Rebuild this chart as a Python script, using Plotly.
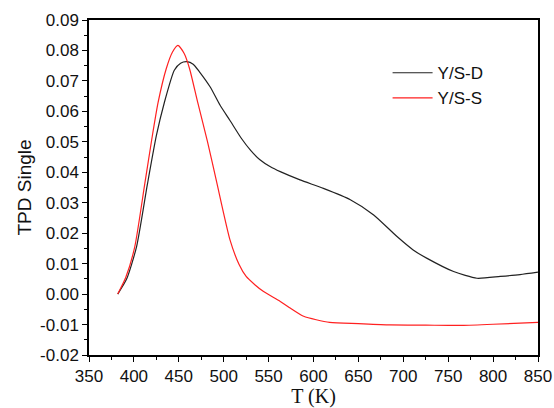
import plotly.graph_objects as go

# temperature (K) and signal
tD = [382, 392, 403, 415, 425, 434, 445, 452, 459, 466, 473, 485, 496, 507, 520, 530, 540, 552, 563, 585, 611, 641, 667, 693, 711, 726, 756, 782, 808, 830, 850]
yD = [0.0, 0.005, 0.0156, 0.036, 0.052, 0.063, 0.0735, 0.0758, 0.0763, 0.0755, 0.073, 0.068, 0.062, 0.057, 0.051, 0.0472, 0.0442, 0.0418, 0.0402, 0.0375, 0.0347, 0.031, 0.026, 0.0189, 0.0145, 0.0118, 0.0074, 0.0052, 0.0058, 0.0064, 0.0072]

tS = [382, 391, 401, 412, 420, 427, 436, 443, 449, 456, 462, 471, 482, 492, 507, 517, 525, 535, 544, 563, 574, 589, 618, 650, 685, 725, 763, 800, 850]
yS = [0.0, 0.0055, 0.0156, 0.036, 0.051, 0.063, 0.074, 0.0795, 0.0817, 0.079, 0.074, 0.063, 0.05, 0.037, 0.0178, 0.0098, 0.0058, 0.003, 0.0009, -0.0024, -0.0046, -0.0073, -0.0093, -0.0097, -0.0101, -0.0102, -0.0103, -0.0099, -0.0093]

# y tick labels as printed (plain hyphen for negatives)
yTickVals = [-0.02, -0.01, 0.0, 0.01, 0.02, 0.03, 0.04, 0.05, 0.06, 0.07, 0.08, 0.09]
yTickText = ["-0.02", "-0.01", "0.00", "0.01", "0.02", "0.03", "0.04", "0.05", "0.06", "0.07", "0.08", "0.09"]

fig = go.Figure()
fig.add_trace(go.Scatter(x=tD, y=yD, mode="lines", name="Y/S-D",
                         line=dict(color="#222222", width=1.2, shape="spline", smoothing=0.6)))
fig.add_trace(go.Scatter(x=tS, y=yS, mode="lines", name="Y/S-S",
                         line=dict(color="#ff2020", width=1.2, shape="spline", smoothing=0.6)))

axis_common = dict(showline=True, linecolor="black", linewidth=1.5, mirror=True,
                   ticks="outside", ticklen=5, tickwidth=1.2, tickcolor="black",
                   showgrid=False, zeroline=False, automargin=False,
                   tickfont=dict(family="Liberation Sans, Arial", size=17, color="#111111"))

fig.update_xaxes(range=[350, 850], dtick=50, tick0=350,
                 minor=dict(ticks="outside", ticklen=3, dtick=25, tickcolor="black"),
                 title=dict(text="T (K)", font=dict(family="Liberation Serif, Times New Roman", size=20, color="#111111"),
                            standoff=9),
                 **axis_common)
fig.update_yaxes(range=[-0.02, 0.09], tickvals=yTickVals, ticktext=yTickText,
                 minor=dict(ticks="outside", ticklen=3, dtick=0.005, tickcolor="black"),
                 title=dict(text="TPD Single", font=dict(family="Liberation Sans, Arial", size=19, color="#111111"),
                            standoff=3),
                 **axis_common)

fig.update_layout(
    width=554, height=408,
    margin=dict(l=89, r=16, t=20, b=53),
    plot_bgcolor="white", paper_bgcolor="white",
    legend=dict(x=0.665, y=0.895, xanchor="left", yanchor="top",
                bgcolor="rgba(0,0,0,0)", font=dict(family="Liberation Sans, Arial", size=17, color="#111111"),
                tracegroupgap=0, itemwidth=40),
)

# drop the default page margin so the figure sits at the window's corner
fig.write_html("out.html", config={"displayModeBar": False},
               post_script="document.body.style.margin='0';")
